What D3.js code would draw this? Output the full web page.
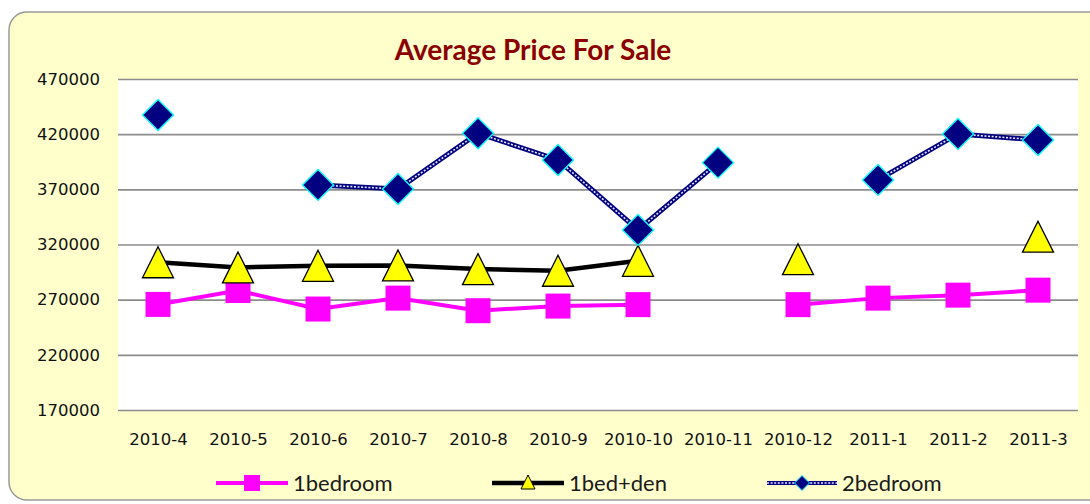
<!DOCTYPE html>
<html>
<head>
<meta charset="utf-8">
<script src="https://cdn.jsdelivr.net/npm/d3@7"></script>
<style>
  body { margin: 0; background: #fff; }
</style>
</head>
<body>
<div id="chart"></div>
<script>
var svgWidth = 1090;
var svgHeight = 504;

// data
var months = ["2010-4", "2010-5", "2010-6", "2010-7", "2010-8", "2010-9",
              "2010-10", "2010-11", "2010-12", "2011-1", "2011-2", "2011-3"];
var oneBedroom = [265700, 278300, 261500, 271400, 260000, 264200,
                  265500, null, 265500, 271400, 274100, 278600];
var oneBedDen = [303900, 299200, 300700, 301000, 297700, 296200,
                 305200, null, 306700, null, null, 327100];
var twoBedroom = [437400, null, 374000, 370300, 420800, 396600,
                  333200, 394200, null, 378500, 420200, 414700];
var yTicks = [170000, 220000, 270000, 320000, 370000, 420000, 470000];
var seriesNames = ["1bedroom", "1bed+den", "2bedroom"];

var plot = { left: 118, right: 1078, top: 79, bottom: 410 };

var svg = d3.select("#chart").append("svg")
  .attr("width", svgWidth)
  .attr("height", svgHeight);

// chart background
svg.append("rect")
  .attr("x", 9).attr("y", 12)
  .attr("width", 1110).attr("height", 488)
  .attr("rx", 18).attr("ry", 18)
  .attr("fill", "#FFFFCC")
  .attr("stroke", "#9a9a9a")
  .attr("stroke-width", 1.5);

svg.append("rect")
  .attr("x", plot.left).attr("y", plot.top)
  .attr("width", plot.right - plot.left)
  .attr("height", plot.bottom - plot.top)
  .attr("fill", "#fff");

// title
svg.append("text")
  .attr("x", 533).attr("y", 60)
  .attr("text-anchor", "middle")
  .attr("font-family", "Lato, 'Open Sans', sans-serif")
  .attr("font-weight", "bold")
  .attr("font-size", "28px")
  .attr("fill", "#8B0000")
  .text("Average Price For Sale");

// scales
var x = d3.scalePoint()
  .domain(months)
  .range([plot.left, plot.right])
  .padding(0.5);

var y = d3.scaleLinear()
  .domain([170000, 470000])
  .range([plot.bottom, plot.top]);

// y axis with gridlines
var yAxis = svg.append("g")
  .attr("transform", `translate(${plot.left},0)`)
  .call(d3.axisLeft(y).tickValues(yTicks).tickFormat(d3.format("d"))
    .tickSize(-(plot.right - plot.left)).tickPadding(18));
yAxis.select(".domain").remove();
yAxis.selectAll("line")
  .attr("stroke", "#8c8c8c")
  .attr("stroke-width", 1.6);
yAxis.selectAll("text")
  .attr("font-family", "'DejaVu Sans', Verdana, sans-serif")
  .attr("font-size", "16.5px")
  .attr("fill", "#111");

// x axis labels
var xAxis = svg.append("g")
  .attr("transform", `translate(0,${plot.bottom})`)
  .call(d3.axisBottom(x).tickSize(0).tickPadding(23));
xAxis.select(".domain").remove();
xAxis.selectAll("text")
  .attr("font-family", "'DejaVu Sans', Verdana, sans-serif")
  .attr("font-size", "16.5px")
  .attr("fill", "#111");

// marker shapes
function squarePath(s) {
  return `M${-s / 2},${-s / 2}h${s}v${s}h${-s}Z`;
}
function trianglePath(w, h) {
  return `M0,${-h / 2}L${w / 2},${h / 2}L${-w / 2},${h / 2}Z`;
}
function diamondPath(w, h) {
  return `M0,${-h / 2}L${w / 2},0L0,${h / 2}L${-w / 2},0Z`;
}

function lineFor(values) {
  return d3.line()
    .defined(d => d != null)
    .x((d, i) => x(months[i]))
    .y(d => y(d))(values);
}

function points(values) {
  return values.map((v, i) => ({ month: months[i], value: v })).filter(d => d.value != null);
}

// 1bedroom
svg.append("path")
  .attr("d", lineFor(oneBedroom))
  .attr("fill", "none")
  .attr("stroke", "#FF00FF")
  .attr("stroke-width", 4);
svg.selectAll(".sq")
  .data(points(oneBedroom))
  .enter()
  .append("path")
  .attr("class", "sq")
  .attr("transform", d => `translate(${x(d.month)},${y(d.value)})`)
  .attr("d", squarePath(25))
  .attr("fill", "#FF00FF");

// 1bed+den
svg.append("path")
  .attr("d", lineFor(oneBedDen))
  .attr("fill", "none")
  .attr("stroke", "#000")
  .attr("stroke-width", 4.5);
svg.selectAll(".tri")
  .data(points(oneBedDen))
  .enter()
  .append("path")
  .attr("class", "tri")
  .attr("transform", d => `translate(${x(d.month)},${y(d.value)})`)
  .attr("d", trianglePath(31, 31))
  .attr("fill", "#FFFF00")
  .attr("stroke", "#000")
  .attr("stroke-width", 1.3);

// 2bedroom - chain style line
svg.append("path")
  .attr("d", lineFor(twoBedroom))
  .attr("fill", "none")
  .attr("stroke", "#000080")
  .attr("stroke-width", 5);
svg.append("path")
  .attr("d", lineFor(twoBedroom))
  .attr("fill", "none")
  .attr("stroke", "#e8e8ff")
  .attr("stroke-width", 1.6)
  .attr("stroke-dasharray", "2,1.6");
svg.selectAll(".dia")
  .data(points(twoBedroom))
  .enter()
  .append("path")
  .attr("class", "dia")
  .attr("transform", d => `translate(${x(d.month)},${y(d.value)})`)
  .attr("d", diamondPath(31, 31))
  .attr("fill", "#000080")
  .attr("stroke", "#00FFFF")
  .attr("stroke-width", 1.3);

// legend
var legendY = 483;
var legendItems = [
  { name: seriesNames[0], x1: 216, x2: 288 },
  { name: seriesNames[1], x1: 492, x2: 564 },
  { name: seriesNames[2], x1: 767, x2: 837 }
];
var legend = svg.selectAll(".legend")
  .data(legendItems)
  .enter()
  .append("g")
  .attr("class", "legend");

legend.each(function(d, i) {
  var g = d3.select(this);
  var cx = (d.x1 + d.x2) / 2;
  if (i == 0) {
    g.append("line").attr("x1", d.x1).attr("x2", d.x2).attr("y1", legendY).attr("y2", legendY)
      .attr("stroke", "#FF00FF").attr("stroke-width", 4);
    g.append("path").attr("transform", `translate(${cx},${legendY})`)
      .attr("d", squarePath(16)).attr("fill", "#FF00FF");
  } else if (i == 1) {
    g.append("line").attr("x1", d.x1).attr("x2", d.x2).attr("y1", legendY).attr("y2", legendY)
      .attr("stroke", "#000").attr("stroke-width", 4.5);
    g.append("path").attr("transform", `translate(${cx},${legendY - 1})`)
      .attr("d", trianglePath(14, 14)).attr("fill", "#FFFF00")
      .attr("stroke", "#000").attr("stroke-width", 1);
  } else {
    g.append("line").attr("x1", d.x1).attr("x2", d.x2).attr("y1", legendY).attr("y2", legendY)
      .attr("stroke", "#000080").attr("stroke-width", 4);
    g.append("line").attr("x1", d.x1).attr("x2", d.x2).attr("y1", legendY).attr("y2", legendY)
      .attr("stroke", "#e8e8ff").attr("stroke-width", 1.4).attr("stroke-dasharray", "2,1.6");
    g.append("path").attr("transform", `translate(${cx},${legendY})`)
      .attr("d", diamondPath(15, 15)).attr("fill", "#000080")
      .attr("stroke", "#00FFFF").attr("stroke-width", 1);
  }
  g.append("text")
    .attr("x", d.x2 + 5)
    .attr("y", legendY + 8)
    .attr("font-family", "Lato, 'Open Sans', sans-serif")
    .attr("font-size", "22px")
    .attr("fill", "#1a1a1a")
    .text(d.name);
});
</script>
</body>
</html>
